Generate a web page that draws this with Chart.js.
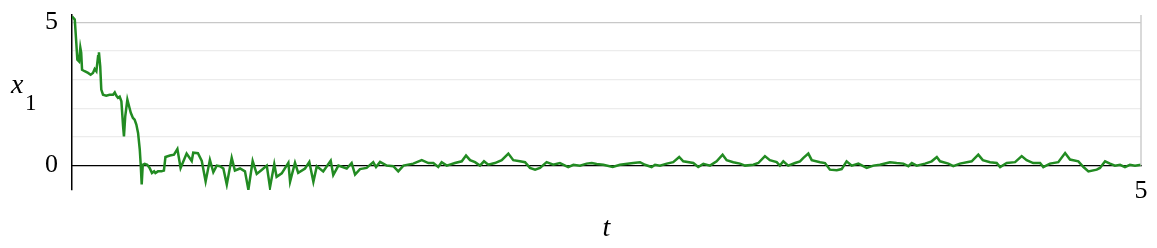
<!DOCTYPE html>
<html>
<head>
<meta charset="utf-8">
<script src="https://cdn.jsdelivr.net/npm/chart.js@4/dist/chart.umd.min.js"></script>
<style>
  html, body { margin: 0; padding: 0; background: #fff; }
  #wrap { width: 1157px; height: 248px; }
</style>
</head>
<body>
<div id="wrap"><canvas id="chart"></canvas></div>
<script>
// time values (t) and the trajectory x1(t)
const tValues = [
  0, 0.013, 0.020, 0.025, 0.033, 0.039, 0.043, 0.047, 0.059, 0.075, 0.087, 0.098, 0.106, 0.114, 0.122, 0.126,
  0.132, 0.137, 0.145, 0.160, 0.176, 0.192, 0.200, 0.207, 0.215, 0.223, 0.231, 0.239, 0.243, 0.249, 0.259, 0.267,
  0.275, 0.285, 0.293, 0.301, 0.309, 0.317, 0.321, 0.326, 0.331, 0.340, 0.352, 0.363, 0.374, 0.384, 0.390, 0.402,
  0.418, 0.430, 0.437, 0.458, 0.477, 0.493, 0.508, 0.536, 0.560, 0.567, 0.589, 0.607, 0.625, 0.645, 0.661, 0.677,
  0.692, 0.708, 0.724, 0.747, 0.762, 0.786, 0.809, 0.825, 0.845, 0.864, 0.887, 0.911, 0.926, 0.946, 0.957, 0.981,
  1.012, 1.020, 1.043, 1.058, 1.090, 1.110, 1.129, 1.145, 1.175, 1.210, 1.222, 1.246, 1.285, 1.308, 1.324, 1.347,
  1.378, 1.409, 1.422, 1.441, 1.472, 1.503, 1.526, 1.550, 1.596, 1.636, 1.667, 1.690, 1.713, 1.729, 1.753, 1.791,
  1.823, 1.843, 1.862, 1.885, 1.908, 1.927, 1.947, 1.978, 2.010, 2.041, 2.064, 2.095, 2.119, 2.142, 2.166, 2.189,
  2.220, 2.251, 2.282, 2.321, 2.345, 2.376, 2.407, 2.431, 2.454, 2.485, 2.529, 2.563, 2.625, 2.657, 2.680, 2.711,
  2.727, 2.750, 2.782, 2.812, 2.840, 2.859, 2.906, 2.929, 2.953, 2.984, 3.015, 3.043, 3.062, 3.093, 3.124, 3.148,
  3.187, 3.210, 3.241, 3.264, 3.296, 3.311, 3.327, 3.350, 3.382, 3.405, 3.421, 3.444, 3.460, 3.499, 3.522, 3.545,
  3.577, 3.600, 3.623, 3.647, 3.678, 3.717, 3.748, 3.779, 3.826, 3.857, 3.888, 3.912, 3.928, 3.951, 3.990, 4.021,
  4.045, 4.060, 4.099, 4.122, 4.153, 4.208, 4.239, 4.260, 4.294, 4.325, 4.341, 4.372, 4.411, 4.442, 4.465, 4.496,
  4.528, 4.543, 4.574, 4.613, 4.645, 4.668, 4.707, 4.731, 4.754, 4.793, 4.808, 4.832, 4.855, 4.878, 4.902, 4.925,
  4.948, 4.972, 5.000
];
const x1Values = [
  5.20, 5.09, 4.29, 3.69, 3.63, 4.11, 3.94, 3.34, 3.29, 3.23, 3.17, 3.23, 3.37, 3.29, 3.81, 3.95,
  3.46, 2.65, 2.47, 2.44, 2.47, 2.47, 2.55, 2.44, 2.36, 2.40, 2.24, 1.37, 1.02, 1.72, 2.30, 2.07,
  1.84, 1.66, 1.60, 1.43, 1.14, 0.56, 0.09, -0.66, 0.03, 0.06, 0.03, -0.08, -0.26, -0.20, -0.26, -0.20,
  -0.20, -0.17, 0.30, 0.35, 0.38, 0.58, -0.08, 0.42, 0.16, 0.45, 0.43, 0.16, -0.55, 0.20, -0.23, 0.00,
  -0.02, -0.10, -0.66, 0.27, -0.17, -0.10, -0.20, -0.84, 0.16, -0.29, -0.15, 0.00, -0.76, 0.05, -0.39, -0.27,
  0.10, -0.56, 0.10, -0.25, -0.10, 0.13, -0.56, -0.02, -0.20, 0.17, -0.33, 0.00, -0.10, 0.09, -0.31, -0.12,
  -0.08, 0.12, -0.05, 0.13, 0.00, -0.02, -0.20, 0.00, 0.07, 0.19, 0.09, 0.09, -0.05, 0.12, 0.00, 0.09,
  0.15, 0.35, 0.19, 0.12, 0.00, 0.15, 0.03, 0.09, 0.19, 0.42, 0.19, 0.15, 0.12, -0.08, -0.14, -0.08,
  0.12, 0.03, 0.09, -0.05, 0.03, 0.00, 0.07, 0.09, 0.06, 0.03, -0.05, 0.03, 0.09, 0.12, 0.03, -0.05,
  0.03, 0.00, 0.07, 0.12, 0.30, 0.15, 0.09, -0.05, 0.06, 0.00, 0.15, 0.38, 0.19, 0.12, 0.07, 0.00,
  0.03, 0.09, 0.33, 0.19, 0.12, 0.00, 0.15, 0.00, 0.09, 0.15, 0.27, 0.42, 0.19, 0.12, 0.09, -0.14,
  -0.16, -0.12, 0.15, 0.00, 0.07, -0.08, 0.00, 0.03, 0.12, 0.09, 0.07, -0.02, 0.09, 0.00, 0.07, 0.15,
  0.30, 0.15, 0.07, -0.02, 0.07, 0.15, 0.38, 0.19, 0.12, 0.09, -0.05, 0.09, 0.12, 0.33, 0.19, 0.09,
  0.09, -0.05, 0.07, 0.12, 0.44, 0.21, 0.15, -0.05, -0.20, -0.14, -0.08, 0.15, 0.07, 0.00, 0.03, -0.05,
  0.03, 0.00, 0.03
];
const yTicks = [0, 1, 2, 3, 4, 5];
const yLabels = [0, 5];
const xLabels = [5];

const serif = "'Liberation Serif', 'Times New Roman', serif";

// drop the label paddings so layout.padding alone places the plot box
const noPad = s => { s.paddingTop = 0; s.paddingBottom = 0; s.paddingLeft = 0; s.paddingRight = 0; };

// axis titles (x1 and t) and the right edge line
const decor = {
  id: 'decor',
  afterDraw(c) {
    const ctx = c.ctx, a = c.chartArea;
    const y0 = c.scales.y.getPixelForValue(0);
    ctx.save();
    ctx.strokeStyle = '#cccccc';
    ctx.lineWidth = 1.5;
    ctx.beginPath();
    ctx.moveTo(a.right, a.top);
    ctx.lineTo(a.right, y0);
    ctx.stroke();
    ctx.fillStyle = '#000';
    ctx.textBaseline = 'alphabetic';
    ctx.textAlign = 'left';
    ctx.font = 'italic 28px ' + serif;
    ctx.fillText('x', 11, 93);
    ctx.font = '23px ' + serif;
    ctx.fillText('1', 25, 110);
    ctx.textAlign = 'center';
    ctx.font = 'italic 28px ' + serif;
    ctx.fillText('t', (a.left + a.right) / 2, 236);
    ctx.restore();
  }
};

new Chart(document.getElementById('chart'), {
  type: 'line',
  data: {
    datasets: [{
      data: tValues.map((t, i) => ({ x: t, y: x1Values[i] })),
      borderColor: '#228b22',
      borderWidth: 2.5,
      pointRadius: 0,
      tension: 0
    }]
  },
  options: {
    responsive: true,
    maintainAspectRatio: false,
    animation: false,
    layout: { padding: { left: 0, right: 16, top: 15, bottom: 58 } },
    plugins: { legend: { display: false }, tooltip: { enabled: false } },
    scales: {
      x: {
        type: 'linear',
        min: 0,
        max: 5,
        position: { y: 0 },
        afterFit: noPad,
        afterBuildTicks: s => { s.ticks = xLabels.map(v => ({ value: v })); },
        grid: { display: false, drawTicks: false },
        border: { color: '#000', width: 1.3 },
        ticks: { color: '#000', padding: 10, maxRotation: 0, font: { family: serif, size: 26 } }
      },
      y: {
        type: 'linear',
        min: -0.85,
        max: 5.25,
        afterFit: s => { s.width = 72; noPad(s); },
        afterBuildTicks: s => { s.ticks = yTicks.map(v => ({ value: v })); },
        grid: {
          drawTicks: false,
          lineWidth: 1.3,
          color: ctx => ctx.tick && ctx.tick.value === 5 ? '#c8c8c8' : '#ececec'
        },
        border: { color: '#000', width: 1.5 },
        ticks: {
          color: '#000',
          padding: 14,
          font: { family: serif, size: 26 },
          callback: v => yLabels.includes(v) ? String(v) : ''
        }
      }
    }
  },
  plugins: [decor]
});
</script>
</body>
</html>
